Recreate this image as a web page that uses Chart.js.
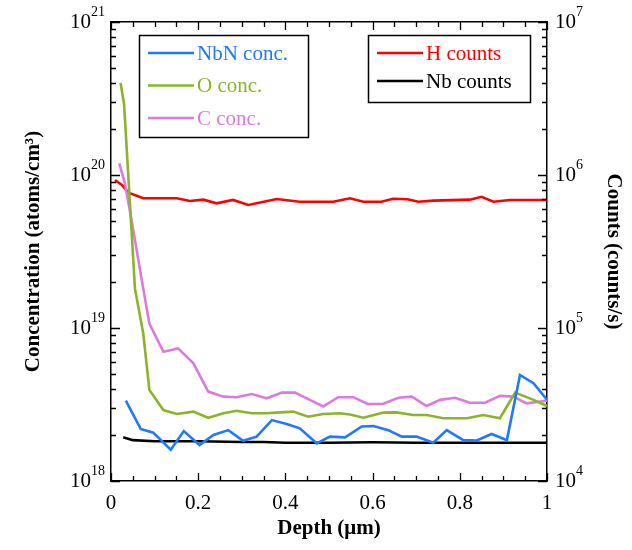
<!DOCTYPE html>
<html>
<head>
<meta charset="utf-8">
<script src="https://cdn.jsdelivr.net/npm/chart.js@4.4.0/dist/chart.umd.min.js"></script>
<style>
  html, body { margin: 0; padding: 0; background: #fff; }
  #chart-container { width: 632px; height: 550px; }
</style>
</head>
<body>
<div id="chart-container"><canvas id="chart" width="632" height="550"></canvas></div>
<script>
// --- dati ---
var nbnDepth = [0.034, 0.068, 0.097, 0.137, 0.167, 0.203, 0.235, 0.269, 0.303, 0.334, 0.369, 0.403, 0.433, 0.472, 0.502,
                0.537, 0.575, 0.602, 0.636, 0.667, 0.701, 0.739, 0.77, 0.808, 0.839, 0.873, 0.908, 0.938, 0.969, 1.0];
var nbnConc = [3.35e18, 2.19e18, 2.07e18, 1.6e18, 2.12e18, 1.72e18, 2.0e18, 2.15e18, 1.83e18, 1.95e18, 2.5e18, 2.36e18, 2.21e18, 1.76e18, 1.95e18,
               1.93e18, 2.27e18, 2.29e18, 2.15e18, 1.95e18, 1.95e18, 1.78e18, 2.15e18, 1.85e18, 1.84e18, 2.03e18, 1.85e18, 4.93e18, 4.36e18, 3.4e18];

var oDepth = [0.022, 0.03, 0.055, 0.074, 0.088, 0.12, 0.151, 0.189, 0.223, 0.258, 0.288, 0.323, 0.357, 0.388, 0.418, 0.452,
              0.487, 0.525, 0.548, 0.579, 0.625, 0.655, 0.693, 0.724, 0.762, 0.816, 0.854, 0.892, 0.927, 0.969, 1.0];
var oConc = [4.0e20, 2.9e20, 1.8e19, 9.2e18, 3.94e18, 2.91e18, 2.74e18, 2.84e18, 2.59e18, 2.77e18, 2.88e18, 2.77e18, 2.77e18, 2.81e18, 2.84e18, 2.63e18,
             2.74e18, 2.77e18, 2.72e18, 2.59e18, 2.8e18, 2.81e18, 2.7e18, 2.7e18, 2.57e18, 2.57e18, 2.7e18, 2.57e18, 3.78e18, 3.39e18, 3.09e18];

var cDepth = [0.019, 0.032, 0.047, 0.07, 0.088, 0.12, 0.154, 0.189, 0.223, 0.258, 0.288, 0.323, 0.357, 0.392, 0.422, 0.456,
              0.487, 0.521, 0.556, 0.59, 0.625, 0.659, 0.69, 0.724, 0.755, 0.789, 0.823, 0.858, 0.892, 0.923, 0.953, 1.0];
var cConc = [1.19e20, 8.8e19, 5.1e19, 2.1e19, 1.07e19, 7.0e18, 7.36e18, 5.87e18, 3.84e18, 3.56e18, 3.53e18, 3.7e18, 3.47e18, 3.78e18, 3.78e18, 3.39e18,
             3.07e18, 3.53e18, 3.53e18, 3.18e18, 3.2e18, 3.5e18, 3.56e18, 3.09e18, 3.39e18, 3.5e18, 3.25e18, 3.25e18, 3.6e18, 3.56e18, 3.22e18, 3.35e18];

var hDepth = [0.009, 0.025, 0.04, 0.074, 0.151, 0.181, 0.212, 0.242, 0.28, 0.315, 0.38, 0.433, 0.51, 0.548, 0.579,
              0.62, 0.647, 0.68, 0.705, 0.74, 0.823, 0.85, 0.877, 0.915, 1.0];
var hCounts = [9.27e5, 8.6e5, 7.66e5, 7.04e5, 7.04e5, 6.76e5, 6.9e5, 6.53e5, 6.87e5, 6.37e5, 6.97e5, 6.69e5, 6.69e5, 7.04e5, 6.69e5,
               6.69e5, 7.0e5, 6.95e5, 6.69e5, 6.8e5, 6.9e5, 7.2e5, 6.69e5, 6.87e5, 6.87e5];

var nbDepth = [0.028, 0.05, 0.1, 0.2, 0.3, 0.35, 0.4, 0.5, 0.6, 0.7, 0.8, 0.9, 1.0];
var nbCounts = [1.93e4, 1.85e4, 1.82e4, 1.82e4, 1.8e4, 1.8e4, 1.78e4, 1.78e4, 1.79e4, 1.78e4, 1.78e4, 1.78e4, 1.78e4];

// etichette degli assi
var xTickLabels = [0, 0.2, 0.4, 0.6, 0.8, 1];
var concDecades = [18, 19, 20, 21];   // esponenti asse sinistro
var countDecades = [4, 5, 6, 7];      // esponenti asse destro

var serif = "'Liberation Serif', 'Times New Roman', serif";

function toPoints(xs, ys) {
    var pts = [];
    for (var i = 0; i < xs.length; i++) pts.push({ x: xs[i], y: ys[i] });
    return pts;
}

function line(label, xs, ys, color, axis) {
    return {
        label: label,
        data: toPoints(xs, ys),
        borderColor: color,
        backgroundColor: color,
        borderWidth: 2.6,
        pointRadius: 0,
        tension: 0,
        yAxisID: axis
    };
}

// tacche interne ed etichette 10^n
var axisDecor = {
    id: 'axisDecor',
    afterDatasetsDraw: function(chart) {
        var ctx = chart.ctx, a = chart.chartArea;
        var sx = chart.scales.x, sy = chart.scales.y, sy2 = chart.scales.y2;
        ctx.save();
        ctx.strokeStyle = '#000';
        ctx.lineWidth = 1.3;
        ctx.beginPath();
        for (var i = 0; i <= 20; i++) {
            var px = Math.round(sx.getPixelForValue(i * 0.05)) + 0.5;
            var len = (i % 4 === 0) ? 8 : 5;
            ctx.moveTo(px, a.bottom); ctx.lineTo(px, a.bottom - len);
            ctx.moveTo(px, a.top); ctx.lineTo(px, a.top + len);
        }
        function logTicks(scale, decades, xEdge, dir) {
            for (var d = 0; d < decades.length; d++) {
                for (var m = 1; m <= 9; m++) {
                    if (d === decades.length - 1 && m > 1) break;
                    var py = Math.round(scale.getPixelForValue(m * Math.pow(10, decades[d]))) + 0.5;
                    var len = (m === 1) ? 9 : 5;
                    ctx.moveTo(xEdge, py); ctx.lineTo(xEdge + dir * len, py);
                }
            }
        }
        logTicks(sy, concDecades, a.left, 1);
        logTicks(sy2, countDecades, a.right, -1);
        ctx.stroke();

        // etichette con esponente
        ctx.fillStyle = '#000';
        function label(scale, exp, x, alignRight) {
            var py = scale.getPixelForValue(Math.pow(10, exp));
            var e = String(exp);
            ctx.font = '14px ' + serif;
            var ew = ctx.measureText(e).width;
            ctx.font = '21px ' + serif;
            var bw = ctx.measureText('10').width;
            var x0 = alignRight ? x - ew - bw : x;
            ctx.textAlign = 'left';
            ctx.textBaseline = 'middle';
            ctx.fillText('10', x0, py);
            ctx.font = '14px ' + serif;
            ctx.textBaseline = 'alphabetic';
            ctx.fillText(e, x0 + bw, py - 6);
        }
        for (var k = 0; k < concDecades.length; k++) label(sy, concDecades[k], a.left - 6, true);
        for (var j = 0; j < countDecades.length; j++) label(sy2, countDecades[j], a.right + 8, false);
        ctx.restore();
    }
};

// due riquadri di legenda
var boxLegends = {
    id: 'boxLegends',
    afterDraw: function(chart, args, opts) {
        var ctx = chart.ctx;
        var sets = chart.data.datasets;
        ctx.save();
        opts.boxes.forEach(function(b) {
            ctx.fillStyle = '#fff';
            ctx.fillRect(b.x, b.y, b.w, b.h);
            ctx.strokeStyle = '#000';
            ctx.lineWidth = 1.5;
            ctx.strokeRect(b.x + 0.5, b.y + 0.5, b.w, b.h);
            b.items.forEach(function(idx, n) {
                var ds = sets[idx];
                var yy = b.y + b.first + n * b.step;
                ctx.strokeStyle = ds.borderColor;
                ctx.lineWidth = 2.6;
                ctx.beginPath();
                ctx.moveTo(b.x + 9, yy); ctx.lineTo(b.x + 55, yy);
                ctx.stroke();
                ctx.fillStyle = ds.borderColor;
                ctx.font = '21px ' + serif;
                ctx.textAlign = 'left';
                ctx.textBaseline = 'middle';
                ctx.fillText(ds.label, b.x + 58, yy + 1);
            });
        });
        ctx.restore();
    }
};

var ctx = document.getElementById('chart').getContext('2d');
var chart = new Chart(ctx, {
    type: 'line',
    data: {
        datasets: [
            line('NbN conc.', nbnDepth, nbnConc, '#1f78ff', 'y'),
            line('O conc.', oDepth, oConc, '#8cb42a', 'y'),
            line('C conc.', cDepth, cConc, '#dc7ade', 'y'),
            line('H counts', hDepth, hCounts, '#ff0000', 'y2'),
            line('Nb counts', nbDepth, nbCounts, '#000000', 'y2')
        ]
    },
    options: {
        responsive: false,
        animation: false,
        layout: { padding: 0 },
        plugins: {
            legend: { display: false },
            tooltip: { enabled: false },
            boxLegends: {
                boxes: [
                    { x: 139, y: 35, w: 169, h: 102, first: 18, step: 32.5, items: [0, 1, 2] },
                    { x: 368, y: 35, w: 162, h: 67, first: 18, step: 28, items: [3, 4] }
                ]
            }
        },
        scales: {
            x: {
                type: 'linear', position: 'bottom', min: 0, max: 1,
                grid: { drawOnChartArea: false, drawTicks: false },
                border: { display: true, color: '#000', width: 1.5 },
                ticks: {
                    stepSize: 0.05, autoSkip: false, maxRotation: 0, padding: 10,
                    color: '#000', font: { family: serif, size: 21 },
                    callback: function(v) {
                        var k = Math.round(v * 100) / 100;
                        return xTickLabels.indexOf(k) >= 0 ? String(k) : '';
                    }
                },
                title: {
                    display: true, text: 'Depth (\u03bcm)', color: '#000',
                    font: { family: serif, size: 21, weight: 'bold', lineHeight: 1.2 },
                    padding: { top: 0, bottom: 9 }
                },
                afterFit: function(s) { s.height = 69; }
            },
            xTop: {
                type: 'linear', position: 'top', min: 0, max: 1,
                grid: { drawOnChartArea: false, drawTicks: false },
                border: { display: true, color: '#000', width: 1.5 },
                ticks: { display: false },
                afterFit: function(s) { s.height = 22; }
            },
            y: {
                type: 'logarithmic', position: 'left', min: 1e18, max: 1e21,
                grid: { drawOnChartArea: false, drawTicks: false },
                border: { display: true, color: '#000', width: 1.5 },
                ticks: { display: false },
                title: {
                    display: true, text: 'Concentration (atoms/cm\u00b3)', color: '#000',
                    font: { family: serif, size: 21, weight: 'bold', lineHeight: 1.2 },
                    padding: { top: 21, bottom: 0 }
                },
                afterFit: function(s) { s.width = 111; }
            },
            y2: {
                type: 'logarithmic', position: 'right', min: 1e4, max: 1e7,
                grid: { drawOnChartArea: false, drawTicks: false },
                border: { display: true, color: '#000', width: 1.5 },
                ticks: { display: false },
                title: {
                    display: true, text: 'Counts (counts/s)', color: '#000',
                    font: { family: serif, size: 21, weight: 'bold', lineHeight: 1.2 },
                    padding: { top: 6, bottom: 0 }
                },
                afterFit: function(s) { s.width = 85; }
            }
        }
    },
    plugins: [axisDecor, boxLegends]
});
</script>
</body>
</html>
